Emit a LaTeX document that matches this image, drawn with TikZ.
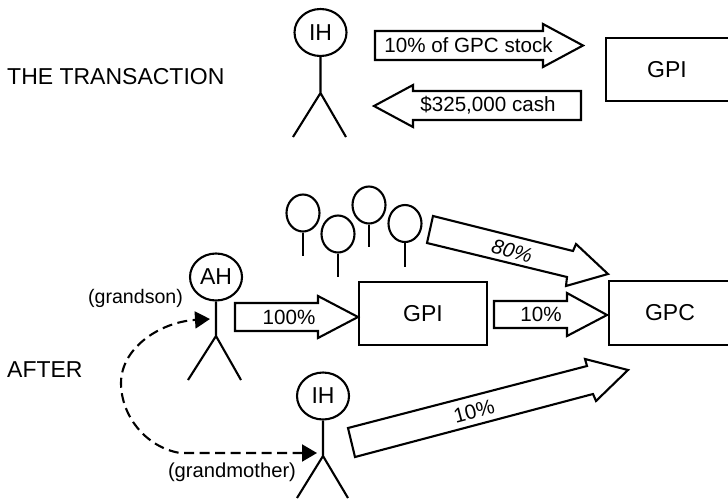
\documentclass[tikz,border=0pt]{standalone}
\usepackage{fontspec}
\setmainfont{Liberation Sans}
\usetikzlibrary{shapes.geometric,arrows.meta}
\tikzset{
  x=1pt,y=-1pt,
  ink/.style={line width=2.1pt,draw=black},
  head/.style={ink,ellipse,minimum width=52pt,minimum height=47pt,inner sep=0pt,font=\fontsize{23}{27}\selectfont},
  balloon/.style={ink,ellipse,minimum width=33pt,minimum height=37pt,inner sep=0pt},
  boxnode/.style={ink,rectangle,inner sep=0pt,font=\fontsize{23}{27}\selectfont},
  blockarrow/.style={ink,line join=miter,miter limit=10,fill=white},
  biglab/.style={inner sep=0pt,font=\fontsize{23}{27}\selectfont},
  lab/.style={inner sep=0pt,font=\fontsize{20.6}{24}\selectfont},
  smalllab/.style={inner sep=0pt,font=\fontsize{19.6}{22}\selectfont},
  transfer/.style={line width=2.1pt,dash pattern=on 10pt off 5.5pt,{Triangle[length=15pt,width=17pt]}-{Triangle[length=15pt,width=17pt]}}
}
\begin{document}
\begin{tikzpicture}
\useasboundingbox (0,0) rectangle (728,499);
% Top: transaction
\node[biglab,anchor=west] (title) at (7,77) {THE TRANSACTION};
\node[head] (ih1) at (320.5,32.5) {IH};
\coordinate (ih1hip) at (320.5,93);
\coordinate (ih1l) at (293,137);
\coordinate (ih1r) at (346,137);
\draw[ink] (ih1) -- (ih1hip) (ih1l) -- (ih1hip) -- (ih1r);
\draw[blockarrow] (375,31) -- (543,31) -- (543,24) -- (583,45.5) -- (543,67) -- (543,60) -- (375,60) -- cycle;
\node[lab] (stock) at (468.5,45) {10\% of GPC stock};
\draw[blockarrow] (581,91) -- (413,91) -- (413,85) -- (374,106) -- (413,127) -- (413,120) -- (581,120) -- cycle;
\node[lab] (cash) at (488,105.5) {\$325,000 cash};
\node[boxnode,minimum width=129pt,minimum height=63pt] (gpi1) at (670.5,69.5) {\hspace*{-7pt}GPI};
% Bottom: after
\node[biglab,anchor=west] (after) at (7,370) {AFTER};
\node[balloon] (b1) at (303,213) {};
\node[balloon] (b2) at (338,234) {};
\node[balloon] (b3) at (369,205) {};
\node[balloon] (b4) at (405,223.5) {};
\coordinate (b1e) at (303,256);
\coordinate (b2e) at (338,277);
\coordinate (b3e) at (369,247);
\coordinate (b4e) at (405,267);
\draw[ink] (b1) -- (b1e) (b2) -- (b2e) (b3) -- (b3e) (b4) -- (b4e);
\node[head] (ah) at (216,277) {AH};
\coordinate (ahhip) at (216,336);
\coordinate (ahl) at (188,380);
\coordinate (ahr) at (241,380);
\draw[ink] (ah) -- (ahhip) (ahl) -- (ahhip) -- (ahr);
\node[smalllab] (grandson) at (135.5,298) {(grandson)};
\node[head] (ih2) at (323,396) {IH};
\coordinate (ih2hip) at (323,456);
\coordinate (ih2l) at (297,498);
\coordinate (ih2r) at (348,498);
\draw[ink] (ih2) -- (ih2hip) (ih2l) -- (ih2hip) -- (ih2r);
\node[smalllab,font=\fontsize{20.2}{24}\selectfont] (grandmother) at (232,472) {(grandmother)};
\node[boxnode,minimum width=128pt,minimum height=63pt] (gpi2) at (423,313.5) {GPI};
\node[boxnode,minimum width=126pt,minimum height=64pt] (gpc) at (672,313) {\hspace*{-4pt}GPC};
\draw[blockarrow] (235,303) -- (318,303) -- (318,296) -- (358,317) -- (318,338) -- (318,331) -- (235,331) -- cycle;
\node[lab] (p100) at (289,317) {100\%};
\draw[blockarrow] (494,301) -- (567,301) -- (567,293) -- (607,315) -- (567,336) -- (567,328) -- (494,328) -- cycle;
\node[lab] (p10a) at (541,314) {10\%};
\draw[blockarrow] (433,216) -- (573,251) -- (576,244) -- (608,274) -- (566,286) -- (567,277) -- (427,243) -- cycle;
\node[lab,rotate=-15] (p80) at (512,251) {\textit{80\%}};
\draw[blockarrow] (348,428) -- (587,366) -- (585,359) -- (628,370) -- (596,401) -- (593,394) -- (355,457) -- cycle;
\node[lab,rotate=15] (p10b) at (474,411) {10\%};
% Gift from grandmother to grandson
\coordinate (gs) at (210,319);
\coordinate (gm) at (317,453);
\draw[transfer] (gm) -- (180,453) .. controls (145,447) and (121,415) .. (121,383) .. controls (121,348) and (160,322) .. (gs);
\end{tikzpicture}
\end{document}
